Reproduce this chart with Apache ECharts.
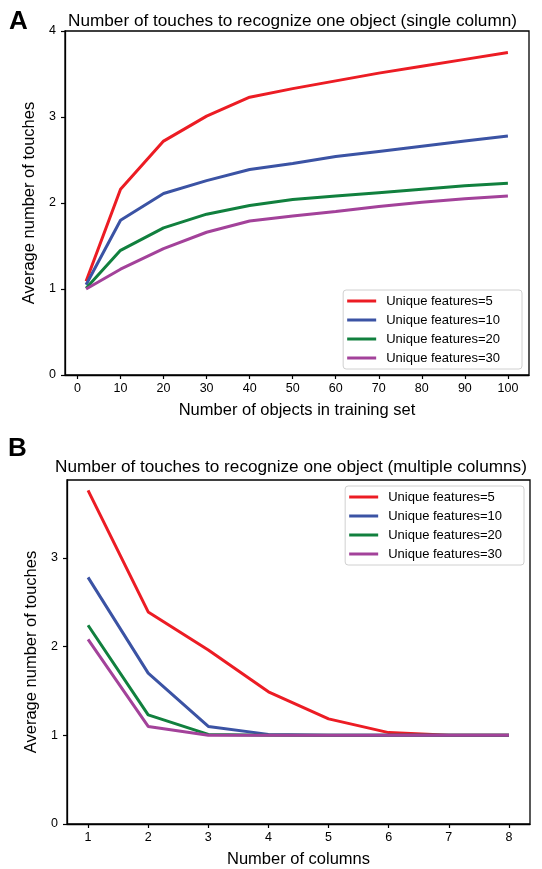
<!DOCTYPE html>
<html>
<head>
<meta charset="utf-8">
<script src="https://cdn.jsdelivr.net/npm/echarts@6/dist/echarts.min.js"></script>
<style>
html,body{margin:0;padding:0;background:#fff;}
#chart{width:542px;height:869px;}
</style>
</head>
<body>
<div id="chart"></div>
<script>
// ---- Data ----
const seriesNames = ['Unique features=5', 'Unique features=10', 'Unique features=20', 'Unique features=30'];
const colors = ['#ec1c24', '#3b53a4', '#11803e', '#a3429a'];

// Panel A: number of objects in training set
const objectsX = [2, 10, 20, 30, 40, 50, 60, 70, 80, 90, 100];
const touchesA5  = [1.09, 2.16, 2.72, 3.01, 3.23, 3.33, 3.42, 3.51, 3.59, 3.67, 3.75];
const touchesA10 = [1.05, 1.80, 2.11, 2.26, 2.39, 2.46, 2.54, 2.60, 2.66, 2.72, 2.78];
const touchesA20 = [1.01, 1.45, 1.71, 1.87, 1.97, 2.04, 2.08, 2.12, 2.16, 2.20, 2.23];
const touchesA30 = [1.00, 1.23, 1.47, 1.66, 1.79, 1.85, 1.90, 1.96, 2.01, 2.05, 2.08];
const xTicksA = [0, 10, 20, 30, 40, 50, 60, 70, 80, 90, 100];
const yTicksA = [0, 1, 2, 3, 4];

// Panel B: number of columns
const columnsX = [1, 2, 3, 4, 5, 6, 7, 8];
const touchesB5  = [3.76, 2.39, 1.96, 1.49, 1.185, 1.03, 1.00, 1.00];
const touchesB10 = [2.78, 1.70, 1.10, 1.01, 1.00, 1.00, 1.00, 1.00];
const touchesB20 = [2.24, 1.23, 1.01, 1.00, 1.00, 1.00, 1.00, 1.00];
const touchesB30 = [2.08, 1.10, 1.00, 1.00, 1.00, 1.00, 1.00, 1.00];
const xTicksB = [1, 2, 3, 4, 5, 6, 7, 8];
const yTicksB = [0, 1, 2, 3];

const dataA = [touchesA5, touchesA10, touchesA20, touchesA30];
const dataB = [touchesB5, touchesB10, touchesB20, touchesB30];

// ---- Chart ----
const FONT = '"Liberation Sans", Arial, Helvetica, sans-serif';
const chart = echarts.init(document.getElementById('chart'), null, {renderer: 'canvas'});

function xAxisCfg(gridIndex, min, max, ticks, name) {
  return {
    type: 'value', gridIndex, min, max,
    name, nameLocation: 'middle', nameGap: 27,
    nameTextStyle: {fontFamily: FONT, fontSize: 16.5, color: '#000'},
    axisLine: {show: true, onZero: false, lineStyle: {color: '#000', width: 1.3}},
    axisTick: {show: true, length: 4, lineStyle: {color: '#000', width: 1.2}, customValues: ticks},
    axisLabel: {fontFamily: FONT, fontSize: 12.5, color: '#000', margin: 7, customValues: ticks},
    splitLine: {show: false}
  };
}
function yAxisCfg(gridIndex, min, max, ticks, name) {
  return {
    type: 'value', gridIndex, min, max,
    name, nameLocation: 'middle', nameGap: 26,
    nameTextStyle: {fontFamily: FONT, fontSize: 16.5, color: '#000'},
    axisLine: {show: true, onZero: false, lineStyle: {color: '#000', width: 1.3}},
    axisTick: {show: true, length: 4, lineStyle: {color: '#000', width: 1.2}, customValues: ticks},
    axisLabel: {fontFamily: FONT, fontSize: 12.5, color: '#000', margin: 9, customValues: ticks},
    splitLine: {show: false}
  };
}

const series = [];
seriesNames.forEach((n, i) => {
  series.push({
    name: n, type: 'line', xAxisIndex: 0, yAxisIndex: 0,
    data: objectsX.map((x, k) => [x, dataA[i][k]]),
    showSymbol: false, symbol: 'none', lineStyle: {width: 3, color: colors[i]},
    itemStyle: {color: colors[i]}, z: 10 + i, animation: false
  });
});
seriesNames.forEach((n, i) => {
  series.push({
    name: n, type: 'line', xAxisIndex: 1, yAxisIndex: 1,
    data: columnsX.map((x, k) => [x, dataB[i][k]]),
    showSymbol: false, symbol: 'none', lineStyle: {width: 3, color: colors[i]},
    itemStyle: {color: colors[i]}, z: 10 + i, animation: false
  });
});

const legendBase = {
  orient: 'vertical', icon: 'rect', itemWidth: 29, itemHeight: 3, itemGap: 3,
  backgroundColor: '#fff', borderColor: '#d0d0d0', borderWidth: 1, borderRadius: 3,
  padding: [3, 22, 3, 4],
  textStyle: {fontFamily: FONT, fontSize: 13, color: '#000', lineHeight: 16, padding: [0, 0, 0, 5]},
  selectedMode: false, data: seriesNames
};

chart.setOption({
  animation: false,
  backgroundColor: '#fff',
  title: [
    {text: 'A', left: 4, top: 4, textStyle: {fontFamily: FONT, fontSize: 26, fontWeight: 'bold', color: '#000'}},
    {text: 'Number of touches to recognize one object (single column)', left: 63, top: 8,
     textStyle: {fontFamily: FONT, fontSize: 17.2, fontWeight: 'normal', color: '#000'}},
    {text: 'B', left: 3, top: 431, textStyle: {fontFamily: FONT, fontSize: 26, fontWeight: 'bold', color: '#000'}},
    {text: 'Number of touches to recognize one object (multiple columns)', left: 50, top: 454,
     textStyle: {fontFamily: FONT, fontSize: 17.2, fontWeight: 'normal', color: '#000'}}
  ],
  grid: [
    {left: 65, top: 31, right: 13, bottom: 494, show: true, borderColor: '#000', borderWidth: 1.3, backgroundColor: 'transparent'},
    {left: 67, top: 480, right: 12, bottom: 44, show: true, borderColor: '#000', borderWidth: 1.3, backgroundColor: 'transparent'}
  ],
  xAxis: [
    xAxisCfg(0, -2.9, 104.9, xTicksA, 'Number of objects in training set'),
    xAxisCfg(1, 0.65, 8.35, xTicksB, 'Number of columns')
  ],
  yAxis: [
    yAxisCfg(0, 0, 4, yTicksA, 'Average number of touches'),
    yAxisCfg(1, 0, 3.877, yTicksB, 'Average number of touches')
  ],
  legend: [
    Object.assign({}, legendBase, {right: 20, bottom: 500}),
    Object.assign({}, legendBase, {right: 18, top: 486})
  ],
  series
});
</script>
</body>
</html>
